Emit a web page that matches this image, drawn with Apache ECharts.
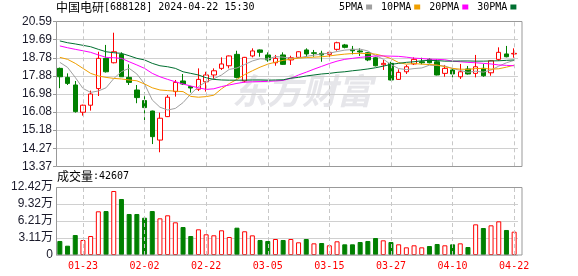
<!DOCTYPE html>
<html><head><meta charset="utf-8">
<script src="https://cdn.jsdelivr.net/npm/echarts@6/dist/echarts.min.js"></script>
<style>html,body{margin:0;padding:0;background:#fff}#c{width:578px;height:276px}</style>
</head><body><div id="c"></div>
<script>
const dates = ['2024-01-18','2024-01-19','2024-01-22','2024-01-23','2024-01-24','2024-01-25','2024-01-26','2024-01-29','2024-01-30','2024-01-31',
'2024-02-01','2024-02-02','2024-02-05','2024-02-06','2024-02-07','2024-02-08','2024-02-19','2024-02-20','2024-02-21','2024-02-22',
'2024-02-23','2024-02-26','2024-02-27','2024-02-28','2024-02-29','2024-03-01','2024-03-04','2024-03-05','2024-03-06','2024-03-07',
'2024-03-08','2024-03-11','2024-03-12','2024-03-13','2024-03-14','2024-03-15','2024-03-18','2024-03-19','2024-03-20','2024-03-21',
'2024-03-22','2024-03-25','2024-03-26','2024-03-27','2024-03-28','2024-03-29','2024-04-01','2024-04-02','2024-04-03','2024-04-08',
'2024-04-09','2024-04-10','2024-04-11','2024-04-12','2024-04-15','2024-04-16','2024-04-17','2024-04-18','2024-04-19','2024-04-22'];
const opens  = [18.26,17.81,17.43,16.07,16.42,17.25,18.76,18.54,18.96,17.81,17.18,16.65,16.13,14.68,15.85,17.10,17.63,17.35,17.22,17.59,
17.93,18.26,18.39,18.96,17.63,18.88,19.18,18.93,18.54,18.93,18.68,18.81,19.18,19.04,19.01,18.96,19.21,19.43,19.21,19.13,
19.04,18.79,18.44,18.51,17.71,18.09,18.48,18.59,18.71,18.59,18.01,18.18,17.84,18.23,18.01,18.26,18.04,18.71,18.98,18.98];
const closes = [17.84,17.51,16.10,16.42,16.98,18.76,18.09,19.09,17.84,17.56,16.80,16.30,14.85,15.77,16.82,17.56,17.48,17.28,17.71,17.93,
18.14,18.48,18.88,17.81,18.81,19.13,19.06,18.68,18.76,18.46,18.79,19.09,18.98,19.01,18.93,19.06,19.54,19.31,19.14,19.08,
18.68,18.39,18.51,17.68,18.06,18.34,18.71,18.54,18.54,17.93,18.26,17.98,18.09,17.98,18.34,17.89,18.64,19.06,18.84,19.01];
const lows   = [17.27,17.43,16.05,15.90,16.15,16.88,18.05,18.51,17.84,17.43,16.52,15.68,14.48,14.07,15.83,16.85,17.43,17.05,17.13,17.10,
17.71,18.18,18.26,17.76,17.56,18.81,18.84,18.59,18.39,18.43,18.43,18.79,18.84,18.84,18.59,18.84,19.14,19.26,18.96,18.88,
18.62,18.36,18.18,17.66,17.69,17.98,18.43,18.46,18.51,17.91,17.84,17.81,17.73,17.95,17.81,17.84,17.89,18.64,18.81,18.79];
const highs  = [18.30,18.01,17.63,16.45,17.15,19.09,19.43,20.04,19.06,18.46,17.43,17.07,16.15,16.05,16.93,17.68,17.98,17.39,18.26,18.09,
18.26,18.81,18.90,19.14,18.83,19.26,19.20,19.06,18.93,19.06,18.89,19.11,19.26,19.18,19.14,19.13,19.59,19.48,19.38,19.26,
19.08,18.84,18.68,18.59,18.21,18.43,18.81,18.79,18.76,18.71,18.43,18.34,18.48,18.38,18.93,18.48,18.66,19.31,19.38,19.26];
const volumes = [25600,17000,36500,27400,34700,79800,80300,116900,102300,74900,74900,68100,80300,67000,72500,59700,51100,34700,46900,37800,
36000,45100,32900,49900,43300,35900,27400,25600,29200,27400,29200,23200,29200,21300,21900,17700,25000,19500,19500,23700,
25600,31000,26800,23700,19500,14000,17700,14000,16400,20100,17700,19500,21300,14600,56000,49300,54200,61500,45700,42607];
const volUp = [0,0,0,1,1,1,0,1,0,0,0,0,0,1,1,1,0,0,1,1,1,1,1,0,1,1,0,0,1,0,
1,1,0,1,0,1,1,0,0,0,0,0,1,0,1,1,1,1,0,0,1,0,1,0,1,0,1,1,0,1];
const ma5  = [18.56,18.31,17.81,17.26,17.06,17.13,17.29,17.75,18.10,18.26,17.98,17.48,16.68,16.32,16.18,16.26,16.55,16.98,17.35,17.59,
17.74,17.93,18.21,18.28,18.45,18.63,18.74,18.72,18.85,18.82,18.76,18.78,18.86,18.92,18.98,19.02,19.10,19.17,19.20,19.22,
19.13,18.90,18.72,18.45,18.25,18.20,18.25,18.28,18.42,18.40,18.38,18.25,18.16,18.06,18.12,18.07,18.18,18.37,18.54,18.66];
const ma10 = [18.81,18.71,18.51,18.26,18.01,17.88,17.81,17.76,17.73,17.68,17.64,17.48,17.29,17.18,17.15,17.12,17.10,16.86,16.82,16.85,
16.92,17.24,17.50,17.71,17.95,18.14,18.32,18.47,18.57,18.66,18.72,18.77,18.80,18.82,18.84,18.88,18.93,18.97,19.00,19.01,
19.00,18.97,18.88,18.75,18.55,18.47,18.50,18.47,18.45,18.43,18.34,18.26,18.22,18.21,18.25,18.26,18.22,18.24,18.32,18.42];
const ma20 = [19.38,19.29,19.21,19.14,19.06,18.93,18.81,18.79,18.76,18.59,18.43,18.26,18.01,17.84,17.71,17.59,17.48,17.38,17.29,17.21,
17.24,17.35,17.43,17.51,17.57,17.59,17.60,17.61,17.63,17.66,17.76,17.93,18.07,18.22,18.36,18.50,18.62,18.71,18.76,18.81,
18.84,18.88,18.88,18.87,18.86,18.82,18.77,18.75,18.72,18.71,18.69,18.62,18.59,18.56,18.54,18.51,18.48,18.43,18.41,18.39];
const ma30 = [19.63,19.54,19.48,19.41,19.34,19.21,19.09,19.04,19.01,18.89,18.76,18.68,18.51,18.39,18.34,18.26,18.09,18.01,17.93,17.79,
17.71,17.68,17.67,17.67,17.67,17.68,17.68,17.67,17.68,17.69,17.77,17.81,17.88,17.93,17.98,18.01,18.06,18.09,18.14,18.18,
18.23,18.29,18.37,18.46,18.51,18.56,18.59,18.64,18.66,18.65,18.62,18.62,18.63,18.63,18.62,18.62,18.63,18.64,18.66,18.68];
const priceTicks = [13.37,14.27,15.18,16.08,16.98,17.88,18.78,19.69,20.59];
const volTicks = [0,31100,62100,93200,124200];
const labelDates = ['2024-01-23','2024-02-02','2024-02-22','2024-03-05','2024-03-15','2024-03-27','2024-04-10','2024-04-22'];
const maNames = ['5PMA','10PMA','20PMA','30PMA'];
const maColors = ['#a0a0a0','#f0a000','#ff00ff','#006f30'];
const title = '中国电研';
const code = '[688128] 2024-04-22 15:30';
const lastVol = 42607;

const UP = '#ff0000', DOWN = '#008000';
const mono = "'DejaVu Sans Mono', monospace";
const cjk = "'Noto Sans CJK SC', sans-serif";
const GL = 56, GW = 462;

const candleData = dates.map((d, i) => [opens[i], closes[i], lows[i], highs[i]]);
const volData = volumes.map((v, i) => ({
  value: v,
  itemStyle: volUp[i] ? {color: '#fff', borderColor: UP, borderWidth: 1} : {color: DOWN, borderColor: DOWN, borderWidth: 1}
}));
const vLines = {
  symbol: ['none', 'none'], silent: true, label: {show: false},
  lineStyle: {color: '#c8c8c8', type: [4, 3], width: 1},
  emphasis: {disabled: true},
  data: labelDates.map(d => ({xAxis: d}))
};
const isLabelIdx = (idx) => labelDates.indexOf(dates[idx]) >= 0;
const richTitle = {
  a: {fontFamily: cjk, fontSize: 12, color: '#000', fontWeight: 'normal'},
  b: {fontFamily: mono, fontSize: 10, color: '#000', fontWeight: 'normal'}
};

const chart = echarts.init(document.getElementById('c'), null, {renderer: 'canvas'});
chart.setOption({
  animation: false,
  backgroundColor: '#fff',
  title: [
    {text: '{a|' + title + '}{b|' + code + '}', left: 56, top: 1, padding: 0,
     textStyle: {fontWeight: 'normal', rich: richTitle}},
    {text: '{a|成交量}{b|:' + lastVol + '}', left: 57, top: 170, padding: 0,
     textStyle: {fontWeight: 'normal', rich: richTitle}}
  ],
  legend: {
    data: maNames, left: 339, top: 2, padding: 0, align: 'right', icon: 'rect',
    itemWidth: 6, itemHeight: 5, itemGap: 9, selectedMode: false,
    textStyle: {fontFamily: mono, fontSize: 10, color: '#000', padding: [0, -2, 0, 0]}
  },
  graphic: [
    {type: 'text', left: 232, top: 73, z: -10, silent: true,
     style: {text: '东方财富', fontSize: 35, fontWeight: 'bold', fontStyle: 'italic', fontFamily: cjk, fill: '#e6e6ea'}},
    {type: 'rect', z: 100, silent: true, shape: {x: 56.5, y: 21.5, width: 465.5, height: 145}, style: {fill: 'none', stroke: '#999', lineWidth: 1}},
    {type: 'rect', z: 100, silent: true, shape: {x: 56.5, y: 187.5, width: 465.5, height: 67.5}, style: {fill: 'none', stroke: '#999', lineWidth: 1}}
  ],
  grid: [
    {left: GL, top: 21.7, width: GW, height: 144.6},
    {left: GL, top: 187, width: GW, height: 68}
  ],
  xAxis: [
    {type: 'category', gridIndex: 0, data: dates, boundaryGap: true,
     axisLine: {show: false}, axisTick: {show: false}, axisLabel: {show: false}, splitLine: {show: false}},
    {type: 'category', gridIndex: 1, data: dates, boundaryGap: true,
     axisLine: {show: false}, axisTick: {show: false}, splitLine: {show: false},
     axisLabel: {interval: (idx) => isLabelIdx(idx), formatter: (v) => v.slice(5), color: '#ff0000',
                 fontFamily: mono, fontSize: 10, margin: 6}}
  ],
  yAxis: [
    {type: 'value', gridIndex: 0, min: 13.37, max: 20.59, scale: true,
     axisLine: {show: false},
     axisTick: {show: true, length: 3, lineStyle: {color: '#999'}, customValues: priceTicks},
     axisLabel: {customValues: priceTicks, formatter: (v) => v.toFixed(2), color: '#1a1a2a',
                 fontFamily: "'Liberation Sans', Arial, sans-serif", fontSize: 12, margin: 4},
     splitLine: {show: true, lineStyle: {color: '#d0d0d0', width: 1}}},
    {type: 'value', gridIndex: 1, min: 0, max: 124200,
     axisLine: {show: false},
     axisTick: {show: false, customValues: volTicks},
     axisLabel: {customValues: volTicks, formatter: (v) => v === 0 ? '0' : (v / 10000).toFixed(2) + '万', color: '#1a1a2a',
                 fontFamily: "'Liberation Sans', Arial, 'Noto Sans CJK SC', sans-serif", fontSize: 12, margin: 3},
     splitLine: {show: true, lineStyle: {color: '#d0d0d0', width: 1}}}
  ],
  series: [
    {type: 'candlestick', name: 'K', xAxisIndex: 0, yAxisIndex: 0, data: candleData, barWidth: 5,
     itemStyle: {color: '#fff', color0: DOWN, borderColor: UP, borderColor0: DOWN, borderWidth: 1},
     markLine: vLines},
    {type: 'line', name: maNames[0], xAxisIndex: 0, yAxisIndex: 0, data: ma5, showSymbol: false, symbol: 'none',
     lineStyle: {color: maColors[0], width: 1}, itemStyle: {color: maColors[0]}},
    {type: 'line', name: maNames[1], xAxisIndex: 0, yAxisIndex: 0, data: ma10, showSymbol: false, symbol: 'none',
     lineStyle: {color: maColors[1], width: 1}, itemStyle: {color: maColors[1]}},
    {type: 'line', name: maNames[2], xAxisIndex: 0, yAxisIndex: 0, data: ma20, showSymbol: false, symbol: 'none',
     lineStyle: {color: maColors[2], width: 1}, itemStyle: {color: maColors[2]}},
    {type: 'line', name: maNames[3], xAxisIndex: 0, yAxisIndex: 0, data: ma30, showSymbol: false, symbol: 'none',
     lineStyle: {color: maColors[3], width: 1}, itemStyle: {color: maColors[3]}},
    {type: 'bar', name: 'VOL', xAxisIndex: 1, yAxisIndex: 1, data: volData, barWidth: 5, markLine: vLines}
  ]
});
</script></body></html>
